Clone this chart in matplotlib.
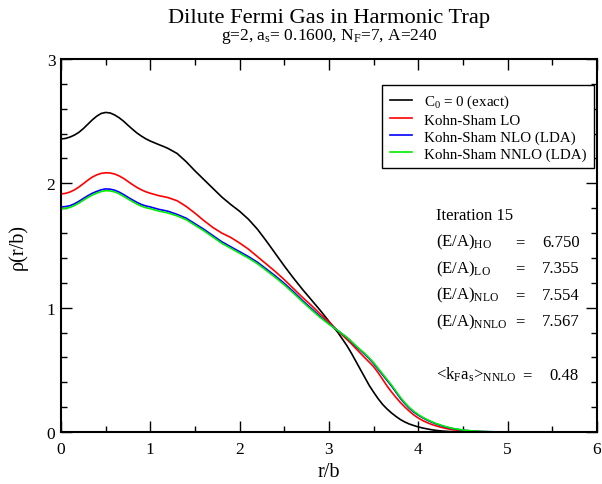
import matplotlib
matplotlib.use("Agg")
import matplotlib.pyplot as plt
from matplotlib.ticker import MultipleLocator

plt.rcParams["font.family"] = ["Liberation Serif", "DejaVu Serif"]
plt.rcParams["mathtext.fontset"] = "custom"
plt.rcParams["mathtext.rm"] = "Liberation Serif"
plt.rcParams["mathtext.it"] = "Liberation Serif:italic"

# radial grid r/b (finer where the profiles bend most)
r = [0.0, 0.05, 0.1, 0.15, 0.2, 0.25, 0.3, 0.35, 0.4, 0.45,
     0.5, 0.55, 0.6, 0.65, 0.7, 0.75, 0.8, 0.85, 0.9, 0.95,
     1.0, 1.05, 1.1, 1.15, 1.2,
     1.3, 1.4, 1.5, 1.6, 1.7, 1.8, 1.9, 2.0, 2.1, 2.2,
     2.3, 2.4, 2.5, 2.6, 2.7, 2.8, 2.9, 3.0, 3.1,
     3.2, 3.25, 3.3, 3.35, 3.4, 3.45, 3.5, 3.55, 3.6, 3.65,
     3.7, 3.75, 3.8, 3.85, 3.9, 3.95, 4.0, 4.05, 4.1, 4.15,
     4.2, 4.25, 4.3, 4.35, 4.4,
     4.5, 4.6, 4.7, 4.8, 4.9, 5.0, 5.5, 6.0]

rho_exact = [2.357, 2.361, 2.372, 2.388, 2.41, 2.44, 2.475, 2.51, 2.54, 2.562,
             2.57, 2.566, 2.55, 2.528, 2.50, 2.467, 2.435, 2.405, 2.38, 2.358,
             2.34, 2.325, 2.31, 2.296, 2.28,
             2.24, 2.175, 2.10, 2.03, 1.96, 1.89, 1.83, 1.775, 1.71, 1.63,
             1.535, 1.435, 1.335, 1.24, 1.15, 1.065, 0.98, 0.89, 0.80,
             0.695, 0.635, 0.57, 0.505, 0.44, 0.375, 0.32, 0.268, 0.222, 0.185,
             0.153, 0.125, 0.10, 0.08, 0.064, 0.052, 0.041, 0.032, 0.025, 0.018,
             0.013, 0.009, 0.006, 0.004, 0.003,
             0.001, 0.0, 0.0, 0.0, 0.0, 0.0, 0.0, 0.0]

rho_lo = [1.915, 1.919, 1.93, 1.947, 1.97, 1.997, 2.025, 2.05, 2.068, 2.08,
          2.085, 2.083, 2.075, 2.06, 2.04, 2.015, 1.99, 1.967, 1.948, 1.932,
          1.92, 1.91, 1.90, 1.893, 1.885,
          1.86, 1.815, 1.76, 1.70, 1.645, 1.60, 1.565, 1.52, 1.47, 1.41,
          1.35, 1.29, 1.225, 1.155, 1.085, 1.02, 0.95, 0.885, 0.812,
          0.745, 0.71, 0.672, 0.635, 0.598, 0.562, 0.525, 0.477, 0.424, 0.37,
          0.322, 0.278, 0.237, 0.2, 0.167, 0.137, 0.112, 0.092, 0.075, 0.061,
          0.049, 0.039, 0.03, 0.023, 0.017,
          0.008, 0.004, 0.002, 0.001, 0.0, 0.0, 0.0, 0.0]

rho_nlo = [1.81, 1.813, 1.82, 1.835, 1.855, 1.878, 1.90, 1.92, 1.935, 1.948,
           1.955, 1.953, 1.945, 1.93, 1.91, 1.888, 1.867, 1.847, 1.83, 1.818,
           1.81, 1.80, 1.79, 1.783, 1.775,
           1.75, 1.72, 1.675, 1.63, 1.58, 1.53, 1.49, 1.45, 1.41, 1.365,
           1.31, 1.255, 1.195, 1.13, 1.06, 0.995, 0.93, 0.87, 0.815,
           0.76, 0.725, 0.69, 0.658, 0.625, 0.59, 0.55, 0.505, 0.46, 0.415,
           0.37, 0.32, 0.27, 0.228, 0.19, 0.16, 0.135, 0.114, 0.095, 0.079,
           0.065, 0.053, 0.042, 0.033, 0.025,
           0.015, 0.008, 0.004, 0.002, 0.001, 0.0, 0.0, 0.0]

rho_nnlo = [1.796, 1.799, 1.806, 1.821, 1.841, 1.864, 1.886, 1.906, 1.921, 1.934,
            1.941, 1.939, 1.931, 1.916, 1.896, 1.874, 1.853, 1.833, 1.816, 1.804,
            1.796, 1.786, 1.776, 1.769, 1.761,
            1.738, 1.708, 1.663, 1.618, 1.568, 1.518, 1.478, 1.438, 1.398, 1.353,
            1.298, 1.243, 1.183, 1.118, 1.05, 0.985, 0.922, 0.867, 0.815,
            0.762, 0.729, 0.695, 0.663, 0.632, 0.596, 0.558, 0.513, 0.468, 0.423,
            0.378, 0.328, 0.278, 0.235, 0.197, 0.166, 0.14, 0.118, 0.099, 0.083,
            0.068, 0.056, 0.045, 0.035, 0.027,
            0.016, 0.009, 0.005, 0.002, 0.001, 0.0, 0.0, 0.0]

series_labels = [r"$\mathrm{C}_0$ = 0 (exact)", "Kohn-Sham LO",
                 "Kohn-Sham NLO (LDA)", "Kohn-Sham NNLO (LDA)"]
series_colors = ["black", "red", "blue", "#00ee00"]

energy_labels = [r"(E/A)$_\mathrm{HO}$", r"(E/A)$_\mathrm{LO}$",
                 r"(E/A)$_\mathrm{NLO}$", r"(E/A)$_\mathrm{NNLO}$"]
energy_values = ["6.750", "7.355", "7.554", "7.567"]
kfas_label = r"<k$_\mathrm{F}$a$_\mathrm{s}$>$_\mathrm{NNLO}$"
kfas_value = "0.48"

fig = plt.figure(figsize=(6.02, 4.85), dpi=100)
ax = fig.add_axes([0.1013, 0.1072, 0.8904, 0.7691])

for y, lab, col in zip([rho_exact, rho_lo, rho_nlo, rho_nnlo], series_labels, series_colors):
    ax.plot(r, y, color=col, lw=1.2, label=lab)

ax.set_xlim(0, 6)
ax.set_ylim(0, 3)
ax.xaxis.set_major_locator(MultipleLocator(1))
ax.xaxis.set_minor_locator(MultipleLocator(0.5))
ax.yaxis.set_major_locator(MultipleLocator(1))
ax.yaxis.set_minor_locator(MultipleLocator(0.2))
ax.tick_params(which="both", direction="in", top=True, right=True, width=1.0)
ax.tick_params(which="major", length=8, labelsize=12.5)
ax.tick_params(axis="x", which="major", pad=6.5)
ax.tick_params(axis="y", which="major", pad=4)
ax.tick_params(which="minor", length=4)
for s in ax.spines.values():
    s.set_linewidth(1.5)

ax.set_xlabel("r/b", fontsize=14.5)
ax.xaxis.set_label_coords(0.5, -0.080)
ax.set_ylabel("ρ(r/b)", fontsize=14.5)
ax.yaxis.set_label_coords(-0.062, 0.5)

fig.text(0.547, 0.953, "Dilute Fermi Gas in Harmonic Trap", ha="center",
         va="baseline", fontsize=16.2)
fig.text(0.547, 0.918, r"g=2, a$_\mathrm{s}$= 0.1600, N$_\mathrm{F}$=7, A=240",
         ha="center", va="baseline", fontsize=12.5)

leg = ax.legend(loc="upper left", bbox_to_anchor=(0.599, 0.930), fontsize=10.8,
                frameon=True, fancybox=False, edgecolor="black", framealpha=1,
                handlelength=1.5, handletextpad=0.8, borderpad=0.5,
                labelspacing=0.22, borderaxespad=0)
leg.get_frame().set_linewidth(1.0)

ax.text(0.70, 0.571, "Iteration 15", transform=ax.transAxes, fontsize=12, va="baseline")
ys = [0.499, 0.429, 0.357, 0.287]
for yy, lab, val in zip(ys, energy_labels, energy_values):
    ax.text(0.70, yy, lab, transform=ax.transAxes, fontsize=12, va="baseline")
    ax.text(0.856, yy, "=", transform=ax.transAxes, fontsize=12, va="baseline", ha="center")
    ax.text(0.968, yy, val, transform=ax.transAxes, fontsize=12, va="baseline", ha="right")
ax.text(0.70, 0.142, kfas_label, transform=ax.transAxes, fontsize=12, va="baseline")
ax.text(0.869, 0.142, "=", transform=ax.transAxes, fontsize=12, va="baseline", ha="center")
ax.text(0.966, 0.142, kfas_value, transform=ax.transAxes, fontsize=12, va="baseline", ha="right")

fig.savefig("out.png", dpi=100)
